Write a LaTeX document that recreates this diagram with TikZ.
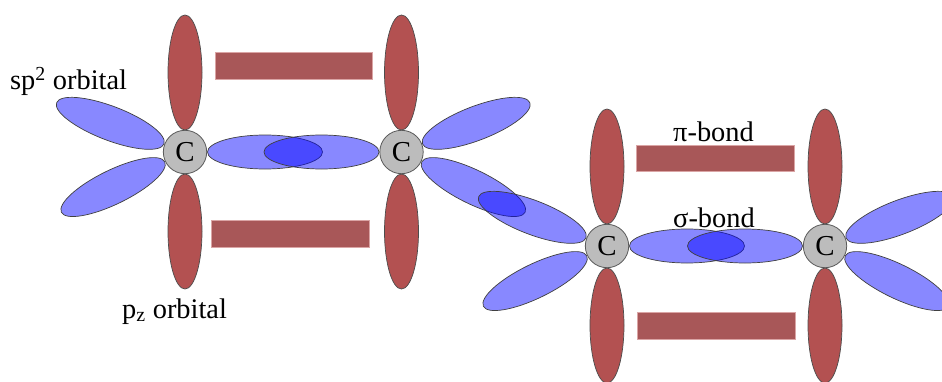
\documentclass[tikz,border=0pt]{standalone}
\usepackage{fontspec}
\setmainfont{Liberation Serif}
\usetikzlibrary{shapes.geometric,calc}
\definecolor{lobeblue}{RGB}{0,0,255}
\definecolor{pzred}{RGB}{179,81,81}
\definecolor{bondred}{RGB}{168,87,88}
\definecolor{bondedge}{RGB}{218,165,165}
\definecolor{atomgray}{RGB}{188,188,188}
\begin{document}
\begin{tikzpicture}[x=1bp,y=1bp,
  lobe/.style={ellipse, inner sep=0pt, minimum width=115bp, minimum height=34bp,
    fill=lobeblue, fill opacity=0.467, draw=black!75, line width=0.7bp},
  pz/.style={ellipse, inner sep=0pt, minimum width=34bp, minimum height=115bp,
    fill=pzred, draw=black!70, line width=0.7bp},
  bond/.style={rectangle, inner sep=0pt, minimum height=27bp, fill=bondred,
    draw=bondedge, line width=0.8bp},
  atom/.style={circle, inner sep=0pt, minimum size=43.4bp, fill=atomgray,
    draw=black!65, line width=0.8bp, font=\fontsize{29}{34}\selectfont},
  lbl/.style={inner sep=0pt, font=\fontsize{28.5}{34}\selectfont}]
\useasboundingbox (0,0) rectangle (942,381);
\clip (0,0) rectangle (942,381);

% carbon positions
\coordinate (c1) at (185,229);
\coordinate (c2) at (401.5,229);
\coordinate (c3) at (607,135);
\coordinate (c4) at (825,135);

% sp2 lobes of the first molecule
\node[lobe, rotate=159] (l1a) at ($(c1)+(159:80)$) {};
\node[lobe, rotate=206] (l1b) at ($(c1)+(206:80)$) {};
\node[lobe] (l1c) at ($(c1)+(80,0)$) {};
\node[lobe] (l2a) at ($(c2)+(-80,0)$) {};
\node[lobe, rotate=21] (l2b) at ($(c2)+(21:80)$) {};
\node[lobe, rotate=-26] (l2c) at ($(c2)+(-26:80)$) {};

% sp2 lobes of the second molecule
\node[lobe, rotate=159] (l3a) at ($(c3)+(159:80)$) {};
\node[lobe, rotate=206] (l3b) at ($(c3)+(206:80)$) {};
\node[lobe] (l3c) at ($(c3)+(80,0)$) {};
\node[lobe] (l4a) at ($(c4)+(-80,0)$) {};
\node[lobe, rotate=21] (l4b) at ($(c4)+(21:80)$) {};
\node[lobe, rotate=-26] (l4c) at ($(c4)+(-26:80)$) {};

% p_z orbitals
\foreach \c in {c1,c2,c3,c4}{
  \node[pz] (\c up) at ($(\c)+(0,79.5)$) {};
  \node[pz] (\c dn) at ($(\c)+(0,-79.5)$) {};
}

% pi-bond bars
\node[bond, minimum width=157bp] (b1) at (293.5,315.5) {};
\node[bond, minimum width=158bp] (b2) at (290,147.5) {};
\node[bond, minimum width=158bp, minimum height=26bp] (b3) at (715,223) {};
\node[bond, minimum width=158bp, minimum height=26.5bp] (b4) at (716.7,55) {};

% carbon atoms
\node[atom] (C1) at (c1) {C};
\node[atom] (C2) at (c2) {C};
\node[atom] (C3) at (c3) {C};
\node[atom] (C4) at (c4) {C};

% labels
\node[lbl, anchor=base west] (tsp) at (10,292) {sp\textsuperscript{2} orbital};
\node[lbl, anchor=base west] (tpz) at (122,63) {p\textsubscript{z} orbital};
\node[lbl, anchor=base] (tpi) at (713.5,240) {π-bond};
\node[lbl, anchor=base] (tsig) at (714,154) {σ-bond};
\end{tikzpicture}
\end{document}
